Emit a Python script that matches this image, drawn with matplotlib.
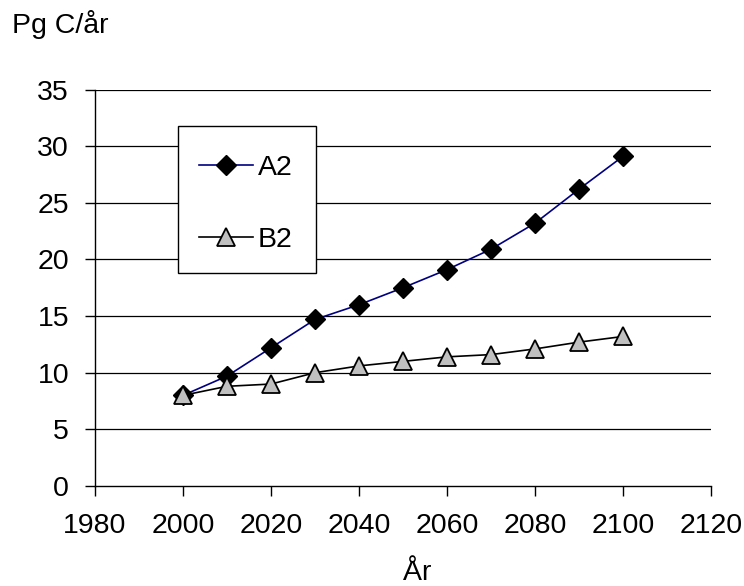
import matplotlib
matplotlib.use("Agg")
import matplotlib.pyplot as plt
from matplotlib.patches import Rectangle

plt.rcParams['font.family'] = ['Liberation Sans', 'DejaVu Sans']

years = [2000, 2010, 2020, 2030, 2040, 2050, 2060, 2070, 2080, 2090, 2100]
a2 = [8.0, 9.7, 12.2, 14.7, 16.0, 17.5, 19.1, 20.9, 23.2, 26.2, 29.1]
b2 = [8.0, 8.8, 9.0, 10.0, 10.6, 11.0, 11.4, 11.6, 12.1, 12.7, 13.2]
series_names = ["A2", "B2"]
x_ticks = [1980, 2000, 2020, 2040, 2060, 2080, 2100, 2120]
y_ticks = [0, 5, 10, 15, 20, 25, 30, 35]

W, H = 744, 586
fig = plt.figure(figsize=(W / 100, H / 100), dpi=100)
ax = fig.add_axes([95 / W, 1 - 486 / H, (711 - 95) / W, (486 - 89.5) / H])

fs = 20.5

ax.plot(years, a2, color='#000080', lw=1.2, marker='D', ms=10.5,
        mfc='black', mec='black', mew=1.0, label=series_names[0], zorder=3)
ax.plot(years, b2, color='black', lw=1.2, marker='^', ms=13.5,
        mfc='#C0C0C0', mec='black', mew=1.3, label=series_names[1], zorder=3)

ax.set_xlim(x_ticks[0], x_ticks[-1])
ax.set_ylim(y_ticks[0], y_ticks[-1])
ax.set_xticks(x_ticks)
ax.set_yticks(y_ticks)
ax.tick_params(axis='both', direction='out', length=7.2, width=1.0,
               labelsize=fs, color='black')
ax.tick_params(axis='y', pad=11.5)
ax.tick_params(axis='x', pad=12)

for v in y_ticks[1:]:
    ax.axhline(v, color='black', lw=0.9, zorder=1)

for side in ('top', 'right'):
    ax.spines[side].set_visible(False)
for side in ('left', 'bottom'):
    ax.spines[side].set_linewidth(1.0)
    ax.spines[side].set_color('black')

fig.text(12 / W, 1 - 33 / H, "Pg C/år", fontsize=fs, ha='left', va='baseline')
fig.text(417 / W, 1 - 580 / H, "År", fontsize=fs, ha='center', va='baseline')

# legend box drawn as its own white rectangle, entries placed inside it
box = Rectangle((178 / W, 1 - 273 / H), (316 - 178) / W, (273 - 126) / H,
                transform=fig.transFigure, facecolor='white',
                edgecolor='black', lw=1.0, zorder=4)
ax.add_patch(box)
box.set_clip_on(False)

leg = ax.legend(loc='upper left', bbox_to_anchor=(178 / W, 1 - 134 / H),
                bbox_transform=fig.transFigure, borderaxespad=0,
                fontsize=fs, frameon=False, handlelength=1.9,
                handletextpad=0.15, labelspacing=1.6, borderpad=0.75)
leg.set_zorder(5)

fig.savefig("out.png", dpi=100)
